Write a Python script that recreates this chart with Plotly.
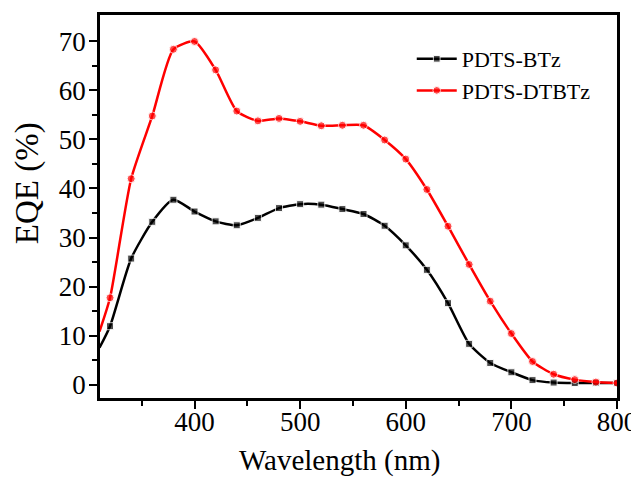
import plotly.graph_objects as go

wavelength = [310, 320, 340, 360, 380, 400, 420, 440, 460, 480, 500, 520, 540, 560,
              580, 600, 620, 640, 660, 680, 700, 720, 740, 760, 780, 800]
eqe_btz = [7.5, 11.9, 25.7, 33.2, 37.7, 35.3, 33.3, 32.5, 34.0, 36.0, 36.8, 36.7, 35.8, 34.8,
           32.4, 28.4, 23.4, 16.6, 8.3, 4.4, 2.5, 0.9, 0.4, 0.3, 0.3, 0.3]
eqe_dtbtz = [10.8, 17.7, 42.0, 54.8, 68.4, 70.0, 64.2, 55.8, 53.8, 54.3, 53.7, 52.8, 52.9, 52.9,
             49.9, 46.0, 39.8, 32.3, 24.5, 17.0, 10.4, 4.7, 2.1, 1.0, 0.5, 0.3]
names = ["PDTS-BTz", "PDTS-DTBTz"]
x_ticks = [400, 500, 600, 700, 800]
y_ticks = [0, 10, 20, 30, 40, 50, 60, 70]
x_title = "Wavelength (nm)"
y_title = "EQE (%)"

# first point is the curve start at the axis edge (no marker shown there)
marker_sizes = [0] + [8] * (len(wavelength) - 1)
square_sizes = [0] + [7] * (len(wavelength) - 1)

FONT = "Liberation Serif, Times New Roman, serif"

fig = go.Figure()
fig.add_trace(go.Scatter(
    x=wavelength, y=eqe_btz, name=names[0], mode="lines+markers",
    line=dict(color="black", width=2.5, shape="spline", smoothing=0.6),
    marker=dict(symbol="square", size=square_sizes, color="black"),
))
fig.add_trace(go.Scatter(
    x=wavelength, y=eqe_dtbtz, name=names[1], mode="lines+markers",
    line=dict(color="#ff0000", width=2.5, shape="spline", smoothing=0.6),
    marker=dict(symbol="circle", size=marker_sizes, color="#ff0000"),
))

# the page body adds an 8 px offset, so the figure is sized to fit the window
fig.update_layout(
    width=631, height=473,
    margin=dict(l=92, r=22, t=7, b=83),
    paper_bgcolor="white", plot_bgcolor="white",
    font=dict(family=FONT, color="black", size=22),
    showlegend=True,
    legend=dict(x=0.603, y=0.94, xanchor="left", yanchor="top",
                bgcolor="rgba(0,0,0,0)", font=dict(size=22, family=FONT),
                tracegroupgap=0, itemwidth=40),
    annotations=[
        dict(text=x_title, xref="paper", yref="paper", x=0.464, y=-0.164,
             xanchor="center", yanchor="middle", showarrow=False,
             font=dict(size=29, family=FONT, color="black")),
        dict(text=y_title, xref="paper", yref="paper", x=-0.141, y=0.561,
             xanchor="center", yanchor="middle", showarrow=False, textangle=-90,
             font=dict(size=33, family=FONT, color="black")),
    ],
)
fig.update_xaxes(
    range=[310.5, 800], tickvals=x_ticks, ticks="outside", ticklen=8, tickwidth=2,
    tickcolor="black", showline=True, linecolor="black", linewidth=2.5, mirror=True,
    showgrid=False, zeroline=False, ticklabelstandoff=-10, automargin=False,
    minor=dict(tickvals=[350, 450, 550, 650, 750], ticks="outside", ticklen=5, tickwidth=2,
               tickcolor="black", showgrid=False),
    tickfont=dict(size=27, family=FONT),
)
fig.update_yaxes(
    range=[-2.75, 75.4], tickvals=y_ticks, ticks="outside", ticklen=8, tickwidth=2,
    tickcolor="black", showline=True, linecolor="black", linewidth=2.5, mirror=True,
    showgrid=False, zeroline=False, ticklabelstandoff=-2, automargin=False,
    minor=dict(tickvals=[5, 15, 25, 35, 45, 55, 65], ticks="outside", ticklen=5, tickwidth=2,
               tickcolor="black", showgrid=False),
    tickfont=dict(size=27, family=FONT),
)

fig.write_html("out.html")
